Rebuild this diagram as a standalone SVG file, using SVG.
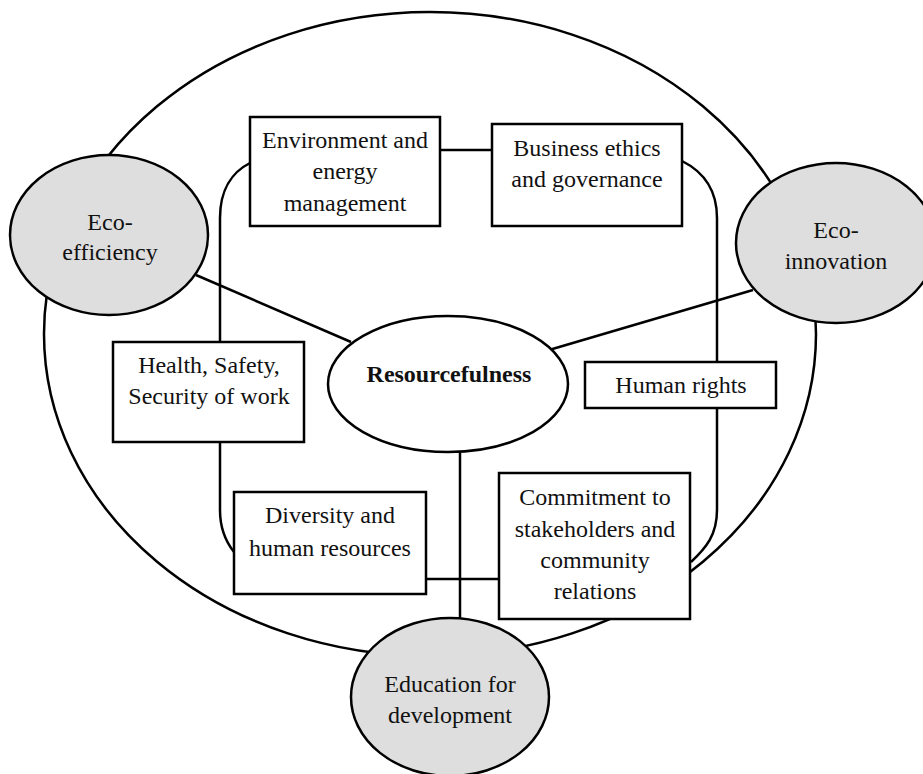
<svg xmlns="http://www.w3.org/2000/svg" width="923" height="774" viewBox="0 0 923 774">
<style>
.ln{fill:none;stroke:#000;stroke-width:2.5}
.box{fill:#fff;stroke:#000;stroke-width:2.5}
.gr{fill:#dedede;stroke:#000;stroke-width:2.5}
.wh{fill:#fff;stroke:#000;stroke-width:2.5}
text{font-family:"Liberation Serif","Times New Roman",serif;font-size:24px;fill:#111;text-anchor:middle}
.b{font-weight:bold}
</style>
<rect width="923" height="774" fill="#fff"/>
<ellipse id="outer" class="ln" cx="430" cy="334" rx="386" ry="322"/>
<g id="connectors">
<path class="ln" d="M250,163 C232,172 220,190 220,218 L220,342"/>
<path class="ln" d="M220,442 L220,510 C220,530 226,542 234,552"/>
<path class="ln" d="M682,161 C704,172 717,190 717,218 L717,362"/>
<path class="ln" d="M717,408 L717,510 C717,535 706,548 691,562"/>
<line class="ln" x1="440" y1="150" x2="492" y2="150"/>
<line class="ln" x1="426" y1="579" x2="499" y2="579"/>
<line class="ln" x1="196" y1="275" x2="351" y2="342"/>
<line class="ln" x1="753" y1="290" x2="549" y2="350"/>
<line class="ln" x1="460" y1="452" x2="460" y2="619"/>
</g>
<g id="eco-efficiency">
<ellipse class="gr" cx="109" cy="235" rx="99" ry="80"/>
<text x="110" y="230">Eco-</text>
<text x="110" y="260">efficiency</text>
</g>
<g id="eco-innovation">
<ellipse class="gr" cx="836" cy="243" rx="100" ry="80"/>
<text x="836" y="238">Eco-</text>
<text x="836" y="269">innovation</text>
</g>
<g id="education">
<ellipse class="gr" cx="450" cy="697" rx="99" ry="79"/>
<text x="450" y="692">Education for</text>
<text x="450" y="723">development</text>
</g>
<g id="resourcefulness">
<ellipse class="wh" cx="448" cy="384" rx="120" ry="68"/>
<text class="b" x="449" y="382">Resourcefulness</text>
</g>
<g id="environment">
<rect class="box" x="250" y="117" width="190" height="109"/>
<text x="345" y="148">Environment and</text>
<text x="345" y="179">energy</text>
<text x="345" y="211">management</text>
</g>
<g id="business">
<rect class="box" x="492" y="124" width="190" height="102"/>
<text x="587" y="156">Business ethics</text>
<text x="587" y="187">and governance</text>
</g>
<g id="health">
<rect class="box" x="113" y="342" width="191" height="100"/>
<text x="209" y="373">Health, Safety,</text>
<text x="209" y="404">Security of work</text>
</g>
<g id="human-rights">
<rect class="box" x="585" y="362" width="191" height="46"/>
<text x="681" y="393">Human rights</text>
</g>
<g id="diversity">
<rect class="box" x="234" y="492" width="192" height="102"/>
<text x="330" y="523">Diversity and</text>
<text x="330" y="556">human resources</text>
</g>
<g id="commitment">
<rect class="box" x="499" y="473" width="191" height="146"/>
<text x="595" y="505">Commitment to</text>
<text x="595" y="537">stakeholders and</text>
<text x="595" y="568">community</text>
<text x="595" y="599">relations</text>
</g>
</svg>
